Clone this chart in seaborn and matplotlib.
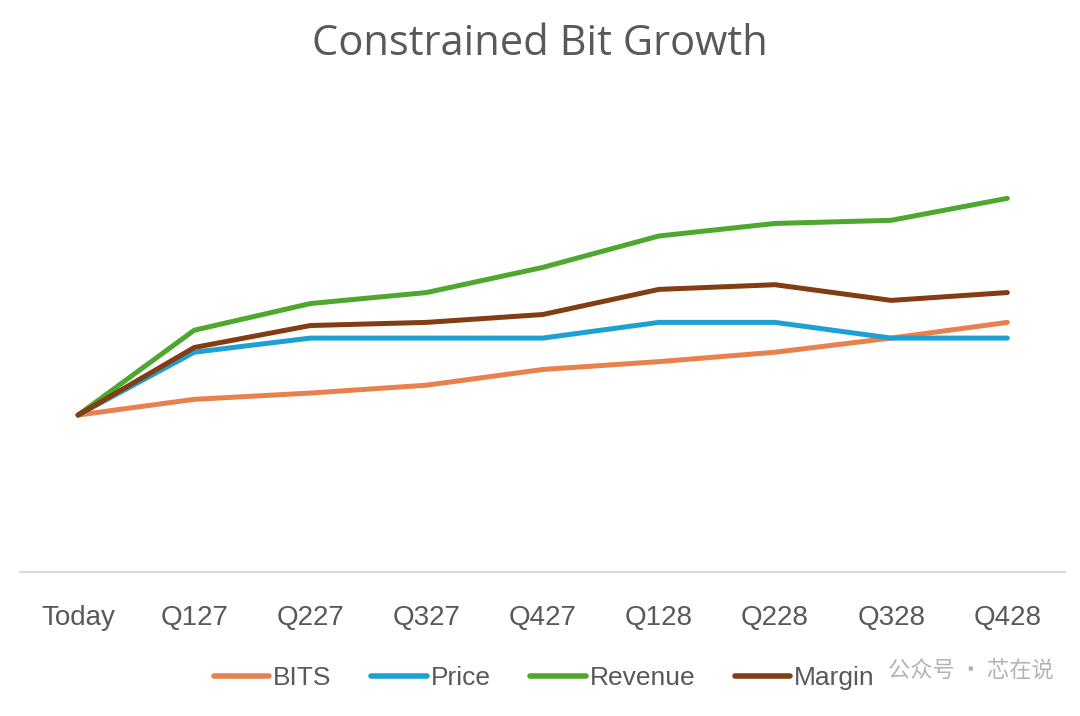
import matplotlib
matplotlib.use("Agg")
import matplotlib.pyplot as plt
import seaborn as sns
import pandas as pd

# Chart data (index, Today = 100)
quarters = ["Today", "Q127", "Q227", "Q327", "Q427", "Q128", "Q228", "Q328", "Q428"]
bits = [100, 110, 114, 119, 129, 134, 140, 149, 159]
price = [100, 140, 149, 149, 149, 159, 159, 149, 149]
revenue = [100, 154, 171, 178, 194, 214, 222, 224, 238]
margin = [100, 143, 157, 159, 164, 180, 183, 173, 178]

series_names = ["BITS", "Price", "Revenue", "Margin"]
colors = {"BITS": "#E8814D", "Price": "#1FA0D4", "Revenue": "#4EA72E", "Margin": "#843C12"}

df = pd.DataFrame({"quarter": quarters, "BITS": bits, "Price": price,
                   "Revenue": revenue, "Margin": margin})
long_df = df.melt(id_vars="quarter", var_name="series", value_name="value")
long_df["x"] = long_df["quarter"].map({q: i for i, q in enumerate(quarters)})

sns.set_theme(style="white")
plt.rcParams["font.family"] = ["Liberation Sans", "DejaVu Sans"]

fig = plt.figure(figsize=(10.8, 7.16), dpi=100)
ax = fig.add_axes([0.0185, 0.201, 0.968, 0.658])

sns.lineplot(data=long_df, x="x", y="value", hue="series", hue_order=series_names,
             palette=colors, linewidth=3.6, ax=ax, legend=False)

ax.set_xlim(-0.5, len(quarters) - 0.5)
ax.set_ylim(0, 300)
ax.set_xticks(range(len(quarters)))
ax.set_xticklabels(quarters, fontsize=20, color="#595959")
ax.tick_params(axis="x", length=0, pad=24)
ax.set_yticks([])
ax.set_xlabel("")
ax.set_ylabel("")
for side in ["top", "right", "left"]:
    ax.spines[side].set_visible(False)
ax.spines["bottom"].set_color("#D9D9D9")
ax.spines["bottom"].set_linewidth(1.5)

fig.suptitle("Constrained Bit Growth", fontsize=30, color="#595959",
             fontfamily=["Open Sans", "DejaVu Sans"], y=0.968)

handles = [plt.Line2D([], [], color=colors[n], lw=4) for n in series_names]
fig.legend(handles, series_names, loc="center left", bbox_to_anchor=(0.198, 0.053), ncol=4,
           frameon=False, fontsize=19, labelcolor="#595959", handlelength=2.1,
           handletextpad=0.15, columnspacing=1.5, borderpad=0, borderaxespad=0)

# watermark
fig.text(0.976, 0.062, "公众号 · 芯在说", ha="right", va="center", fontsize=16,
         color="#9A9A9A", alpha=0.75, fontfamily=["Noto Sans CJK SC", "DejaVu Sans"])

fig.savefig("out.png", dpi=100, facecolor="white")
